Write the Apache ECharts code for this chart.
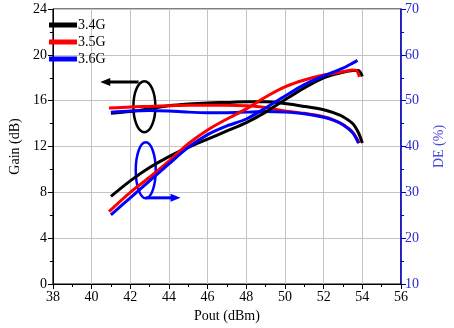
<!DOCTYPE html>
<html>
<head>
<meta charset="utf-8">
<script src="https://cdn.jsdelivr.net/npm/echarts@6/dist/echarts.min.js"></script>
<style>
  html, body { margin: 0; padding: 0; background: #fff; }
  #chart { width: 454px; height: 328px; }
</style>
</head>
<body>
<div id="chart"></div>
<script>
// Output power sweep (dBm) and measured gain (dB) per carrier frequency
const poutGain34 = [41.0, 42, 43, 44, 45, 46, 47, 48, 49, 50, 51, 52, 52.5, 53, 53.5, 53.8, 54.0];
const gain34     = [14.9, 15.05, 15.3, 15.55, 15.7, 15.8, 15.85, 15.9, 15.9, 15.75, 15.5, 15.2, 14.95, 14.6, 14.0, 13.2, 12.3];
const poutGain35 = [40.9, 42, 43, 44, 45, 46, 47, 48, 49, 50, 51, 52, 52.5, 53, 53.5, 53.85];
const gain35     = [15.35, 15.45, 15.5, 15.55, 15.6, 15.6, 15.6, 15.55, 15.4, 15.1, 14.9, 14.6, 14.33, 13.92, 13.25, 12.3];
const poutGain36 = [41.0, 42, 43, 44, 45, 46, 47, 48, 49, 50, 51, 52, 52.5, 53, 53.5, 53.8];
const gain36     = [15.0, 15.1, 15.15, 15.1, 15.0, 14.95, 14.95, 15.0, 15.05, 15.0, 14.85, 14.55, 14.3, 13.9, 13.2, 12.3];

// Drain efficiency (%) per carrier frequency
const poutDE34 = [41.0, 42, 43, 44, 45, 46, 47, 48, 49, 50, 51, 52, 53, 53.5, 53.8, 54.0];
const de34     = [29.1, 32.5, 35.4, 37.8, 39.8, 41.6, 43.4, 45.2, 47.5, 50.2, 52.8, 55.0, 56.2, 56.6, 56.6, 55.3];
const poutDE35 = [40.9, 42, 43, 44, 45, 46, 47, 48, 49, 50, 51, 52, 53, 53.5, 53.7, 53.85];
const de35     = [25.8, 30.0, 33.3, 36.8, 40.6, 43.6, 46.0, 48.2, 50.8, 53.0, 54.5, 55.6, 56.3, 56.7, 56.6, 55.2];
const poutDE36 = [41.0, 42, 43, 44, 45, 46, 47, 48, 49, 50, 51, 52, 53, 53.5, 53.75];
const de36     = [25.1, 28.8, 32.5, 36.2, 39.8, 42.6, 44.5, 46.0, 48.4, 51.0, 53.5, 55.4, 57.1, 58.2, 58.8];

const seriesNames = ['3.4G', '3.5G', '3.6G'];
const seriesColors = ['#000000', '#ff0000', '#0000ff'];

// Axis tick settings
const xTicks = { min: 38, max: 56, step: 2 };
const gainTicks = { min: 0, max: 24, step: 4 };
const deTicks = { min: 10, max: 70, step: 10 };

const FONT = 'Liberation Serif';
const FS = 14;
const AXIS_BLUE = '#0000c8';
const LABEL_BLUE = '#2a2ad0';

function zip(xs, ys) { return xs.map((x, i) => [x, ys[i]]); }

function lineSeries(name, color, data, yAxisIndex) {
  return {
    name, type: 'line', yAxisIndex, data: data,
    smooth: 0.3, showSymbol: false, symbol: 'none',
    lineStyle: { color, width: 3 }, itemStyle: { color },
    emphasis: { disabled: true }, animation: false
  };
}

const chart = echarts.init(document.getElementById('chart'), null, { renderer: 'canvas' });

const option = {
  animation: false,
  backgroundColor: '#ffffff',
  grid: { left: 44, right: 50, top: 9, bottom: 42, show: true, borderColor: '#000', borderWidth: 1, backgroundColor: 'transparent' },
  legend: {
    data: seriesNames, orient: 'vertical', left: 44, top: 13,
    icon: 'rect', itemWidth: 28, itemHeight: 5, itemGap: 3,
    textStyle: { fontFamily: FONT, fontSize: FS, color: '#000', padding: [0, 0, 0, -4] }
  },
  xAxis: {
    type: 'value', min: xTicks.min, max: xTicks.max, interval: xTicks.step,
    name: 'Pout (dBm)', nameLocation: 'middle', nameGap: 25,
    nameTextStyle: { fontFamily: FONT, fontSize: FS, color: '#000' },
    axisLine: { lineStyle: { color: '#000', width: 1 } },
    axisTick: { inside: false, length: 5, lineStyle: { color: '#000' } },
    minorTick: { show: true, splitNumber: 2, length: 3, lineStyle: { color: '#000' } },
    axisLabel: { fontFamily: FONT, fontSize: FS, color: '#000', margin: 6 },
    splitLine: { show: true, lineStyle: { color: '#c4c4c4', width: 1 } }
  },
  yAxis: [
    {
      type: 'value', min: gainTicks.min, max: gainTicks.max, interval: gainTicks.step,
      name: 'Gain (dB)', nameLocation: 'middle', nameGap: 27, nameRotate: 90,
      nameTextStyle: { fontFamily: FONT, fontSize: FS, color: '#000' },
      axisLine: { show: true, lineStyle: { color: '#000', width: 1 } },
      axisTick: { show: true, inside: false, length: 5, lineStyle: { color: '#000' } },
      minorTick: { show: true, splitNumber: 2, length: 3, lineStyle: { color: '#000' } },
      axisLabel: { fontFamily: FONT, fontSize: FS, color: '#000', margin: 6 },
      splitLine: { show: true, lineStyle: { color: '#c4c4c4', width: 1 } }
    },
    {
      type: 'value', position: 'right', min: deTicks.min, max: deTicks.max, interval: deTicks.step,
      name: 'DE (%)', nameLocation: 'middle', nameGap: 31, nameRotate: 90,
      nameTextStyle: { fontFamily: FONT, fontSize: FS, color: '#4a4ae0' },
      axisLine: { show: true, lineStyle: { color: AXIS_BLUE, width: 1.5 } },
      axisTick: { show: true, inside: false, length: 5, lineStyle: { color: AXIS_BLUE } },
      minorTick: { show: true, splitNumber: 2, length: 3, lineStyle: { color: AXIS_BLUE } },
      axisLabel: { fontFamily: FONT, fontSize: FS, color: LABEL_BLUE, margin: 4 },
      splitLine: { show: false }
    }
  ],
  series: [
    lineSeries('3.4G', seriesColors[0], zip(poutGain34, gain34), 0),
    lineSeries('3.5G', seriesColors[1], zip(poutGain35, gain35), 0),
    lineSeries('3.6G', seriesColors[2], zip(poutGain36, gain36), 0),
    lineSeries('3.4G', seriesColors[0], zip(poutDE34, de34), 1),
    lineSeries('3.5G', seriesColors[1], zip(poutDE35, de35), 1),
    lineSeries('3.6G', seriesColors[2], zip(poutDE36, de36), 1)
  ]
};

chart.setOption(option);

// Callouts: ellipses around each curve family with an arrow toward its axis
function px(x, y, axisIndex) {
  return chart.convertToPixel({ xAxisIndex: 0, yAxisIndex: axisIndex }, [x, y]);
}

const gainMark = px(42.73, 15.48, 0);
const gainArrowStart = px(42.43, 17.63, 0);
const gainArrowTip = px(40.45, 17.63, 0);
const deMark = px(42.8, 34.8, 1);
const deArrowStart = px(42.8, 28.8, 1);
const deArrowTip = px(44.6, 28.8, 1);

chart.setOption({
  graphic: [
    { type: 'ellipse', shape: { cx: gainMark[0], cy: gainMark[1], rx: 11, ry: 25.5 },
      style: { fill: 'none', stroke: '#000', lineWidth: 2.5 }, silent: true },
    { type: 'line', shape: { x1: gainArrowStart[0], y1: gainArrowStart[1], x2: gainArrowTip[0] + 8, y2: gainArrowTip[1] },
      style: { stroke: '#000', lineWidth: 3 }, silent: true },
    { type: 'polygon', shape: { points: [[gainArrowTip[0], gainArrowTip[1]], [gainArrowTip[0] + 10, gainArrowTip[1] - 4], [gainArrowTip[0] + 10, gainArrowTip[1] + 4]] },
      style: { fill: '#000' }, silent: true },
    { type: 'ellipse', shape: { cx: deMark[0], cy: deMark[1], rx: 10, ry: 28 },
      style: { fill: 'none', stroke: '#0000ff', lineWidth: 2.5 }, silent: true },
    { type: 'line', shape: { x1: deArrowStart[0], y1: deArrowStart[1], x2: deArrowTip[0] - 8, y2: deArrowTip[1] },
      style: { stroke: '#0000ff', lineWidth: 3 }, silent: true },
    { type: 'polygon', shape: { points: [[deArrowTip[0], deArrowTip[1]], [deArrowTip[0] - 10, deArrowTip[1] - 4], [deArrowTip[0] - 10, deArrowTip[1] + 4]] },
      style: { fill: '#0000ff' }, silent: true }
  ]
});
</script>
</body>
</html>
